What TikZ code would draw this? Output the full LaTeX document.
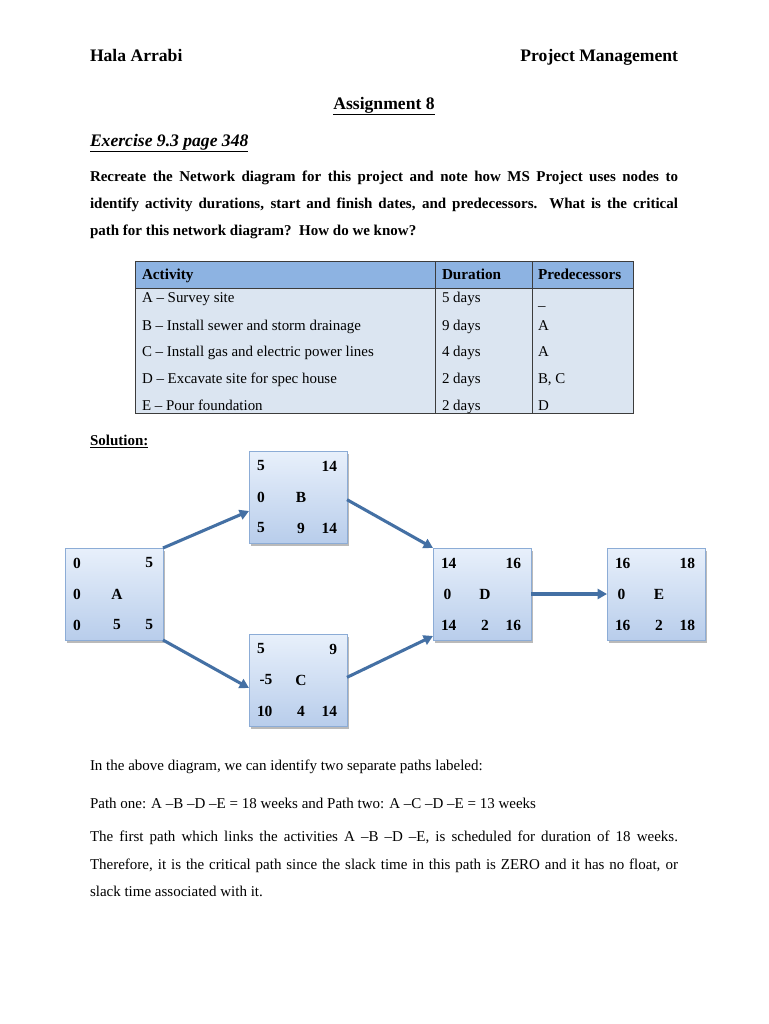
\documentclass[tikz,border=0pt]{standalone}
\usepackage{fontspec}
\setmainfont{Liberation Serif}
\usetikzlibrary{arrows.meta,shadows,calc}
\definecolor{hdr}{RGB}{141,179,226}
\definecolor{tbody}{RGB}{219,229,241}
\definecolor{arr}{RGB}{68,112,164}
\definecolor{boxtop}{RGB}{232,240,251}
\definecolor{boxbot}{RGB}{184,205,235}
\definecolor{boxline}{RGB}{140,172,214}
\definecolor{tline}{RGB}{60,60,60}
\newcommand\jline[1]{\makebox[441pt][s]{#1}}
\newcommand\actbox[9]{%
  \node[actbox] (#1) at #2 {};
  \node[lbl,anchor=west] (#1-tl) at ($(#1.north west)+(8,15)$) {#3};
  \node[lbl,anchor=east] (#1-tr) at ($(#1.north east)+(-10,15)$) {#4};
  \node[lbl,anchor=west] (#1-ml) at ($(#1.north west)+(8,46)$) {#5};
  \node[lbl] (#1-mm) at ($(#1.north west)+(52,46)$) {#6};
  \node[lbl,anchor=west] (#1-bl) at ($(#1.north west)+(8,77)$) {#7};
  \node[lbl] (#1-bm) at ($(#1.north west)+(52,77)$) {#8};
  \node[lbl,anchor=east] (#1-br) at ($(#1.north east)+(-10,77)$) {#9};
}
\tikzset{
  every node/.style={inner sep=0pt, outer sep=0pt, font=\fontsize{11.25}{13.5}\selectfont},
  txt/.style={anchor=base west},
  big/.style={font=\fontsize{13.2}{15}\selectfont\bfseries},
  tbl/.style={anchor=base west, font=\fontsize{11.2}{13}\selectfont},
  tblh/.style={anchor=base west, font=\fontsize{11.4}{13}\selectfont\bfseries},
  lbl/.style={font=\fontsize{11.6}{13.5}\selectfont\bfseries},
  actbox/.style={draw=boxline, line width=0.75pt, top color=boxtop, bottom color=boxbot,
    minimum width=73.5pt, minimum height=69pt,
    drop shadow={shadow xshift=1.2pt, shadow yshift=-2pt, opacity=0.45, fill=black!60}},
  conn/.style={draw=arr, line width=2.3pt, -{Triangle[length=7pt,width=7.5pt]}},
}
\begin{document}
\begin{tikzpicture}[x=0.75pt,y=-0.75pt]
\useasboundingbox (0,0) rectangle (768,1024);
\fill[white] (0,0) rectangle (768,1024);

% header
\node[txt,big] (hdrL) at (90,62) {Hala Arrabi};
\node[anchor=base east,big] (hdrR) at (678,62) {Project Management};
\node[anchor=base,big] (asg) at (384,109) {\underline{Assignment 8}};
\node[txt,font=\fontsize{13.2}{15}\selectfont\bfseries\itshape] (ex) at (90,146) {\underline{Exercise 9.3 page 348}};

% question
\node[txt] (q1) at (90,181) {\bfseries\jline{Recreate the Network diagram for this project and note how MS Project uses nodes to}};
\node[txt] (q2) at (90,208) {\bfseries\jline{identify activity durations, start and finish dates, and predecessors.\ \ What is the critical}};
\node[txt] (q3) at (90,235) {\bfseries path for this network diagram?\ \ How do we know?};

% table
\fill[hdr] (135,261) rectangle (633,288);
\fill[tbody] (135,288) rectangle (633,413);
\draw[tline, line width=0.6pt] (135,261) rectangle (633,413);
\draw[tline, line width=0.6pt] (135,288) -- (633,288);
\draw[tline, line width=0.6pt] (435,261) -- (435,413);
\draw[tline, line width=0.6pt] (532,261) -- (532,413);
\node[tblh] (th1) at (142,279.5) {Activity};
\node[tblh] (th2) at (442,279.5) {Duration};
\node[tblh] (th3) at (538,279.5) {Predecessors};
\node[tbl] (ta1) at (142,302.5) {A – Survey site};
\node[tbl] (tb1) at (442,302.5) {5 days};
\node[tbl] (tc1) at (538,305) {\_};
\node[tbl] (ta2) at (142,330) {B – Install sewer and storm drainage};
\node[tbl] (tb2) at (442,330) {9 days};
\node[tbl] (tc2) at (538,330) {A};
\node[tbl] (ta3) at (142,356.5) {C – Install gas and electric power lines};
\node[tbl] (tb3) at (442,356.5) {4 days};
\node[tbl] (tc3) at (538,356.5) {A};
\node[tbl] (ta4) at (142,383.5) {D – Excavate site for spec house};
\node[tbl] (tb4) at (442,383.5) {2 days};
\node[tbl] (tc4) at (538,383.5) {B, C};
\node[tbl] (ta5) at (142,410) {E – Pour foundation};
\node[tbl] (tb5) at (442,410) {2 days};
\node[tbl] (tc5) at (538,410) {D};

\node[txt] (sol) at (90,445) {\bfseries\underline{Solution:}};

% network
\actbox{A}{(114,594)}{0}{5}{0}{A}{0}{5}{5}
\actbox{B}{(298,497)}{5}{14}{0}{B}{5}{9}{14}
\actbox{C}{(298,680)}{5}{9}{\,-5}{C}{10}{4}{14}
\actbox{D}{(482,594)}{14}{16}{\,0}{D}{14}{2}{16}
\actbox{E}{(656,594)}{16}{18}{\,0}{E}{16}{2}{18}

\draw[conn] (A.north east) -- ([yshift=-10.5pt]B.west);
\draw[conn] (A.south east) -- ([yshift=-6pt]C.west);
\draw[conn] ([yshift=-2pt]B.east) -- (D.north west);
\draw[conn] ([yshift=2pt]C.east) -- ([yshift=3pt]D.south west);
\draw[conn] (D.east) -- (E.west);

% answer
\node[txt] (p1) at (90,770) {In the above diagram, we can identify two separate paths labeled:};
\node[txt] (p2) at (90,808) {Path one: A –B –D –E = 18 weeks and Path two: A –C –D –E = 13 weeks};
\node[txt] (p3) at (90,841) {\jline{The first path which links the activities A –B –D –E, is scheduled for duration of 18 weeks.}};
\node[txt] (p4) at (90,869) {\jline{Therefore, it is the critical path since the slack time in this path is ZERO and it has no float, or}};
\node[txt] (p5) at (90,896) {slack time associated with it.};
\end{tikzpicture}
\end{document}
